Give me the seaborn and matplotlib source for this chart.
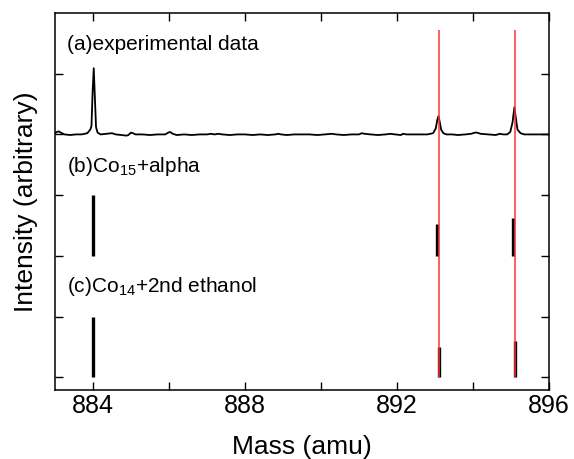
import matplotlib
matplotlib.use("Agg")
import matplotlib.pyplot as plt
import seaborn as sns
import pandas as pd

# experimental trace (a), offset baseline at 4
exp_mass = [883.0, 883.05, 883.1, 883.15, 883.25, 883.4, 883.55, 883.7, 883.85, 883.93, 883.96,
            883.99, 884.02, 884.05, 884.08, 884.12, 884.2, 884.35, 884.5, 884.55, 884.6, 884.75,
            884.88, 884.93, 885.0, 885.05, 885.12, 885.3, 885.5, 885.7, 885.9, 885.98, 886.03,
            886.1, 886.2, 886.4, 886.6, 886.8, 887.0, 887.1, 887.2, 887.3, 887.4, 887.6, 887.8,
            888.0, 888.2, 888.4, 888.6, 888.8, 888.87, 888.95, 889.1, 889.3, 889.5, 889.7, 889.9,
            890.1, 890.28, 890.4, 890.6, 890.8, 891.0, 891.07, 891.15, 891.3, 891.5, 891.7,
            891.82, 891.95, 892.1, 892.16, 892.25, 892.4, 892.6, 892.8, 892.95, 893.02, 893.06,
            893.09, 893.12, 893.16, 893.22, 893.3, 893.45, 893.6, 893.8, 893.95, 894.05, 894.1,
            894.2, 894.4, 894.6, 894.7, 894.8, 894.9, 894.98, 895.04, 895.09, 895.12, 895.17,
            895.25, 895.35, 895.5, 895.7, 895.85, 896.0]
exp_int = [4.02, 4.04, 4.05, 4.03, 4.00, 3.99, 4.00, 4.00, 4.02, 4.08, 4.14,
           4.70, 5.09, 4.60, 4.12, 4.03, 4.00, 4.01, 4.02, 4.01, 4.00, 3.99,
           3.98, 3.99, 4.03, 4.02, 4.00, 4.00, 3.99, 4.00, 4.00, 4.03, 4.04,
           4.01, 3.99, 4.00, 3.99, 4.00, 4.00, 4.01, 4.00, 4.01, 4.00, 3.99, 4.00,
           4.00, 3.99, 4.00, 3.99, 4.00, 4.01, 4.00, 3.99, 4.00, 4.00, 4.00, 3.99,
           4.00, 4.01, 4.00, 3.99, 4.00, 4.00, 4.02, 4.01, 4.00, 3.99, 4.00,
           4.01, 4.00, 3.99, 4.01, 4.00, 4.00, 4.00, 4.00, 4.02, 4.10, 4.24,
           4.30, 4.22, 4.08, 4.02, 4.00, 4.00, 3.99, 4.00, 4.01, 4.03, 4.03,
           4.01, 4.00, 3.99, 4.01, 4.00, 4.00, 4.04, 4.20, 4.45, 4.30, 4.08,
           4.02, 4.00, 4.00, 4.00, 4.00, 4.00]

# stick spectra (b) baseline 2 and (c) baseline 0
b_mass = [884.0, 893.05, 895.05]
b_height = [1.0, 0.53, 0.63]
b_base = 2.0
c_mass = [884.0, 893.1, 895.1]
c_height = [1.0, 0.5, 0.6]
c_base = 0.0

ref_mass = [893.1, 895.1]
ref_top = 5.72

labels = ["(a)experimental data", "(b)Co$_{15}$+alpha", "(c)Co$_{14}$+2nd ethanol"]
label_y = [5.48, 3.47, 1.49]

sns.set_style("ticks")
plt.rcParams['font.family'] = ['Liberation Sans', 'DejaVu Sans']
plt.rcParams['mathtext.fontset'] = 'custom'
plt.rcParams['mathtext.rm'] = 'Liberation Sans'
plt.rcParams['mathtext.it'] = 'Liberation Sans'
plt.rcParams['mathtext.default'] = 'regular'
plt.rcParams['text.color'] = 'black'
plt.rcParams['axes.labelcolor'] = 'black'
plt.rcParams['xtick.color'] = 'black'
plt.rcParams['ytick.color'] = 'black'
plt.rcParams['axes.edgecolor'] = 'black'

fig = plt.figure(figsize=(5.74, 4.59), dpi=100)
ax = fig.add_axes([0.0958, 0.1503, 0.8607, 0.8214])

df = pd.DataFrame({"mass": exp_mass, "intensity": exp_int})
sns.lineplot(data=df, x="mass", y="intensity", ax=ax, color="black", lw=1.3)

ax.vlines(b_mass, b_base, [b_base + h for h in b_height], color="black", lw=2.4)
ax.vlines(c_mass, c_base, [c_base + h for h in c_height], color="black", lw=2.4)
ax.vlines(ref_mass, 0, ref_top, color="#ff3333", lw=1.1)

for lab, yy in zip(labels, label_y):
    ax.text(883.32, yy, lab, fontsize=15, va="center", ha="left")

ax.set_xlim(883, 896)
ax.set_ylim(-0.21, 6.0)
ax.set_xticks([884, 886, 888, 890, 892, 894, 896])
ax.set_xticklabels(["884", "", "888", "", "892", "", "896"])
ax.set_yticks([0, 1, 2, 3, 4, 5])
ax.set_yticklabels([])
ax.tick_params(direction="in", length=6, width=1, top=True, right=True, labelsize=18, pad=3)
for s in ax.spines.values():
    s.set_linewidth(1.1)
ax.set_xlabel("Mass (amu)", fontsize=19, labelpad=12)
ax.set_ylabel("Intensity (arbitrary)", fontsize=19, labelpad=9)

fig.savefig("out.png", dpi=100)
